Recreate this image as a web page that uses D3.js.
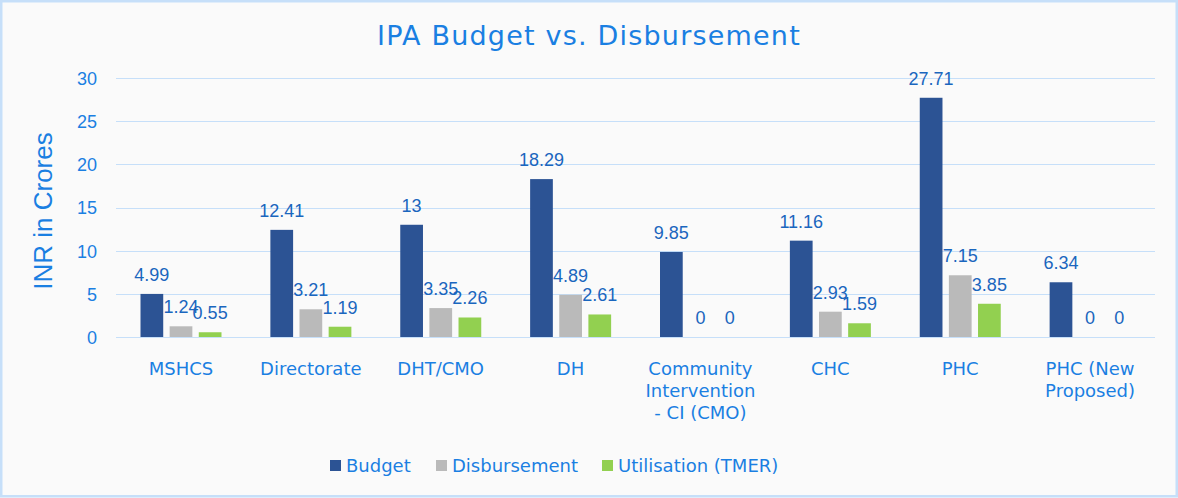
<!DOCTYPE html>
<html>
<head>
<meta charset="utf-8">
<script src="https://cdn.jsdelivr.net/npm/d3@7"></script>
<style>
html,body{margin:0;padding:0;background:#fafafa;}
svg{display:block;}
</style>
</head>
<body>
<script>
const categories = [["MSHCS"], ["Directorate"], ["DHT/CMO"], ["DH"], ["Community", "Intervention", "- CI (CMO)"], ["CHC"], ["PHC"], ["PHC (New", "Proposed)"]];
const seriesNames = ["Budget", "Disbursement", "Utilisation (TMER)"];
const budget = [4.99, 12.41, 13, 18.29, 9.85, 11.16, 27.71, 6.34];
const disbursement = [1.24, 3.21, 3.35, 4.89, 0, 2.93, 7.15, 0];
const utilisation = [0.55, 1.19, 2.26, 2.61, 0, 1.59, 3.85, 0];
const yTicks = [0, 5, 10, 15, 20, 25, 30];
const colors = ["#2c5394", "#bababa", "#92d050"];

(function draw() {
const W = 1178, H = 498;
const svg = d3.select("body").append("svg").attr("width", W).attr("height", H);
svg.append("rect").attr("x", 1.25).attr("y", 1.25).attr("width", W - 2.5).attr("height", H - 3)
  .attr("fill", "#fafafa").attr("stroke", "#c6dff9").attr("stroke-width", 2.5);

const pLeft = 116, pRight = 1155, pTop = 78, pBottom = 337;
const y = d3.scaleLinear().domain([0, 30]).range([pBottom, pTop]);
const keys = categories.map((c, i) => i);
const x0 = d3.scaleBand().domain(keys).range([pLeft, pRight]).padding(0);
const x1 = d3.scaleBand().domain(seriesNames).range([24.5, 105.5]).paddingInner(0.22).paddingOuter(0);
const seriesData = [budget, disbursement, utilisation];

const axisBlue = "#1a7fe2";
const labelBlue = "#1a66be";

// gridlines
svg.append("g").selectAll("line").data(yTicks).join("line")
  .attr("x1", pLeft).attr("x2", pRight)
  .attr("y1", d => Math.round(y(d)) + 0.5).attr("y2", d => Math.round(y(d)) + 0.5)
  .attr("stroke", "#c6dff9").attr("stroke-width", 1);

// y axis tick labels
const yAxis = d3.axisLeft(y).tickValues(yTicks).tickSize(0).tickPadding(0);
const ya = svg.append("g").attr("transform", `translate(97,0)`).call(yAxis);
ya.select(".domain").remove();
ya.selectAll("text").attr("font-family", "Liberation Sans, Arial, sans-serif").attr("font-size", 18)
  .attr("fill", axisBlue).attr("dy", "0.36em");

// y title
svg.append("text").attr("transform", "translate(52,211) rotate(-90)")
  .attr("text-anchor", "middle").attr("font-family", "Liberation Sans, Arial, sans-serif")
  .attr("font-size", 26).attr("fill", axisBlue).text("INR in Crores");

// title
svg.append("text").attr("x", 589).attr("y", 45).attr("text-anchor", "middle")
  .attr("font-family", "DejaVu Sans, Verdana, sans-serif").attr("font-size", 27)
  .attr("letter-spacing", 1.2).attr("fill", axisBlue).text("IPA Budget vs. Disbursement");

// bars
const groups = svg.append("g").selectAll("g").data(keys).join("g")
  .attr("transform", d => `translate(${x0(d)},0)`);
groups.selectAll("rect").data(i => seriesNames.map((s, k) => ({s, k, v: seriesData[k][i]}))).join("rect")
  .attr("x", d => x1(d.s)).attr("width", x1.bandwidth())
  .attr("y", d => y(d.v)).attr("height", d => y(0) - y(d.v))
  .attr("fill", d => colors[d.k]);
groups.selectAll("text").data(i => seriesNames.map((s, k) => ({s, k, v: seriesData[k][i]}))).join("text")
  .attr("x", d => x1(d.s) + x1.bandwidth() / 2).attr("y", d => y(d.v) - 13)
  .attr("text-anchor", "middle").attr("font-family", "Liberation Sans, Arial, sans-serif")
  .attr("font-size", 18).attr("fill", labelBlue).text(d => String(d.v));

// x labels
const xl = svg.append("g").selectAll("text").data(keys).join("text")
  .attr("text-anchor", "middle").attr("font-family", "DejaVu Sans, Verdana, sans-serif")
  .attr("font-size", 18).attr("fill", axisBlue)
  .attr("x", d => x0(d) + x0.bandwidth() / 2).attr("y", 375);
xl.each(function(d) {
  const t = d3.select(this);
  categories[d].forEach((line, j) => {
    t.append("tspan").attr("x", x0(d) + x0.bandwidth() / 2).attr("y", 375 + j * 22).text(line);
  });
});

// legend
const legendX = [330, 436, 602];
const lg = svg.append("g").selectAll("g").data(seriesNames).join("g")
  .attr("transform", (d, i) => `translate(${legendX[i]},460)`);
lg.append("rect").attr("width", 11).attr("height", 11).attr("fill", (d, i) => colors[i]);
lg.append("text").attr("x", 16).attr("y", 12).attr("font-family", "DejaVu Sans, Verdana, sans-serif")
  .attr("font-size", 18).attr("fill", axisBlue).text(d => d);
})();
</script>
</body>
</html>
